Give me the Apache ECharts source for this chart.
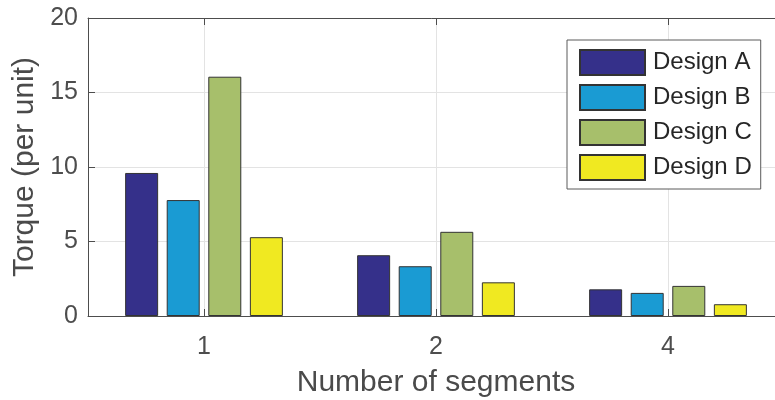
<!DOCTYPE html>
<html>
<head>
<meta charset="utf-8">
<style>
  html, body { margin: 0; padding: 0; background: #ffffff; overflow: hidden; }
  #chart { width: 775px; height: 400px; }
</style>
<script src="https://cdn.jsdelivr.net/npm/echarts@6/dist/echarts.min.js"></script>
</head>
<body>
<div id="chart"></div>
<script>
// Torque per unit for each segment count, one array per design
const segments = ['1', '2', '4'];
const designNames = ['Design A', 'Design B', 'Design C', 'Design D'];
const designA = [9.6, 4.08, 1.79];
const designB = [7.78, 3.34, 1.55];
const designC = [16.06, 5.65, 2.02];
const designD = [5.29, 2.26, 0.79];
const yTicks = [0, 5, 10, 15, 20];

const designValues = [designA, designB, designC, designD];
const designColors = ['#35308a', '#1a9bd3', '#a7bf6b', '#f0e921'];

const FONT = '"Liberation Sans", Arial, Helvetica, sans-serif';
const AXIS_COLOR = '#4d4d4d';
const GRID_COLOR = '#e3e3e3';

const chart = echarts.init(document.getElementById('chart'), null, { renderer: 'canvas' });

chart.setOption({
  animation: false,
  backgroundColor: '#ffffff',
  textStyle: { fontFamily: FONT },
  // the plot box runs a little past the right edge of the canvas
  grid: { left: 88, top: 18, width: 696, height: 298, containLabel: false, outerBoundsMode: 'none' },
  legend: {
    orient: 'vertical',
    left: 567,
    top: 40,
    padding: [9, 9, 8, 12],
    itemWidth: 65,
    itemHeight: 25,
    itemGap: 8,
    icon: 'rect',
    backgroundColor: '#ffffff',
    borderColor: '#5a5a5a',
    borderWidth: 1,
    borderRadius: 0,
    data: designNames,
    textStyle: { fontFamily: FONT, fontSize: 24, lineHeight: 25, color: '#262626', padding: [0, 0, 0, 3] }
  },
  xAxis: [
    {
      type: 'category',
      data: segments,
      position: 'bottom',
      name: 'Number of segments',
      nameLocation: 'middle',
      nameGap: 52,
      nameTextStyle: { fontFamily: FONT, fontSize: 30, color: '#4a4a4a' },
      axisLine: { show: true, lineStyle: { color: AXIS_COLOR, width: 1 } },
      axisTick: { show: true, inside: true, length: 7, alignWithLabel: true, lineStyle: { color: AXIS_COLOR } },
      axisLabel: { fontFamily: FONT, fontSize: 25, color: '#4d4d4d', margin: 19 },
      splitLine: { show: true, alignWithLabel: true, lineStyle: { color: GRID_COLOR, width: 1 } }
    },
    {
      type: 'category',
      data: segments,
      position: 'top',
      axisLine: { show: true, lineStyle: { color: AXIS_COLOR, width: 1 } },
      axisTick: { show: true, inside: true, length: 7, alignWithLabel: true, lineStyle: { color: AXIS_COLOR } },
      axisLabel: { show: false },
      splitLine: { show: false }
    }
  ],
  yAxis: {
    type: 'value',
    min: yTicks[0],
    max: yTicks[yTicks.length - 1],
    interval: 5,
    name: 'Torque (per unit)',
    nameLocation: 'middle',
    nameGap: 46,
    nameTextStyle: { fontFamily: FONT, fontSize: 30, color: '#4a4a4a' },
    axisLine: { show: true, lineStyle: { color: AXIS_COLOR, width: 1 } },
    axisTick: { show: true, inside: true, length: 7, lineStyle: { color: AXIS_COLOR } },
    axisLabel: { fontFamily: FONT, fontSize: 25, color: '#4d4d4d', margin: 10 },
    splitLine: { show: true, lineStyle: { color: GRID_COLOR, width: 1 } }
  },
  series: designNames.map((name, i) => ({
    name: name,
    type: 'bar',
    xAxisIndex: 0,
    data: designValues[i],
    barWidth: 33,
    barGap: '26%',
    itemStyle: { color: designColors[i], borderColor: '#333333', borderWidth: 1 }
  }))
});
</script>
</body>
</html>
